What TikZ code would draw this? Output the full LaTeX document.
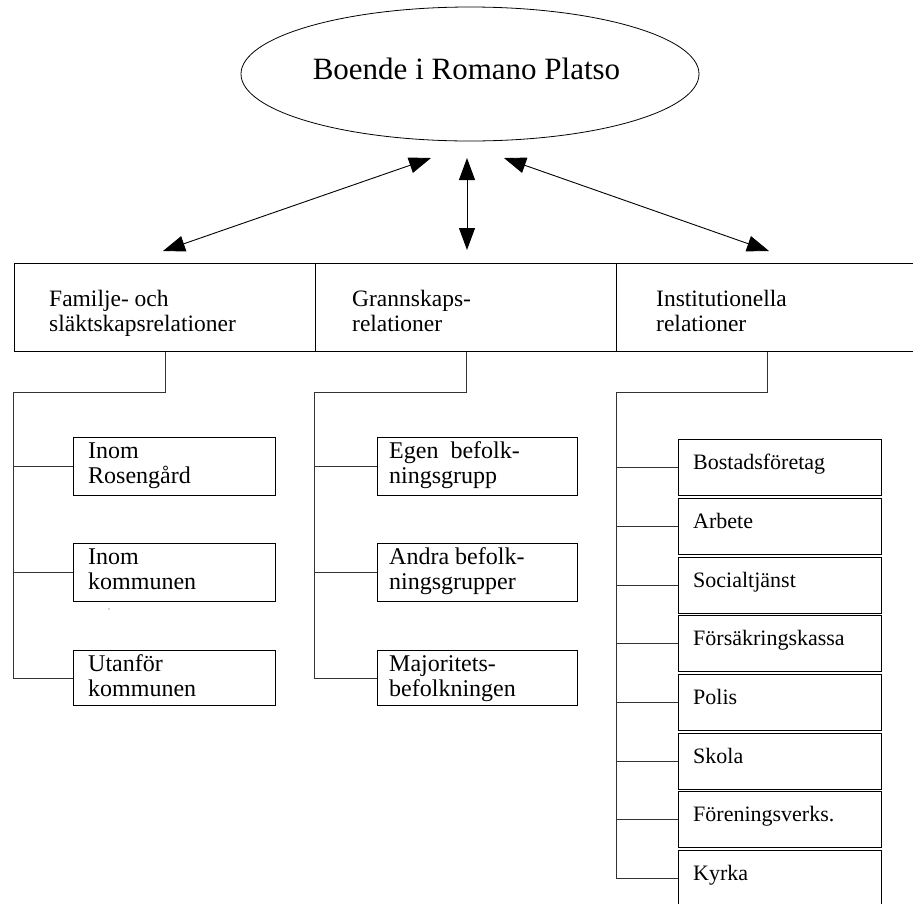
\documentclass[tikz,border=0pt]{standalone}
\usepackage{fontspec}
\setmainfont{Liberation Serif}
\usetikzlibrary{shapes.geometric,arrows.meta}
\begin{document}
\begin{tikzpicture}[x=1pt,y=-1pt,
  conn/.style={line width=0.9pt, draw=black!80},
  hbox/.style={draw, line width=1pt, minimum width=301pt, minimum height=88pt, inner sep=0pt, anchor=north west},
  sbox/.style={draw, line width=1pt, minimum height=58pt, inner sep=0pt, anchor=north west},
  ibox/.style={draw, line width=1pt, minimum width=203pt, minimum height=56pt, inner sep=0pt, anchor=north west},
  htxt/.style={anchor=base west, inner sep=0pt, font=\fontsize{23.5}{25}\selectfont},
  stxt/.style={anchor=base west, inner sep=0pt, font=\fontsize{24}{25}\selectfont},
  itxt/.style={anchor=base west, inner sep=0pt, font=\fontsize{22}{25}\selectfont},
  arr/.style={line width=0.9pt, {Triangle[length=22pt,width=16pt]}-{Triangle[length=22pt,width=16pt]}}
]
\useasboundingbox (0,0) rectangle (913,903);
\clip (0,0) rectangle (913,903);

% top ellipse
\node[draw, ellipse, line width=0.8pt, minimum width=458pt, minimum height=134pt, inner sep=0pt] (top) at (470,74) {};
\node[anchor=base, inner sep=0pt, font=\fontsize{31}{36}\selectfont] (toptxt) at (466.5,79) {Boende i Romano Platso};

% header boxes
\node[hbox] (fam) at (14,263) {};
\node[hbox] (gran) at (315,263) {};
\node[hbox] (inst) at (616,263) {};
\node[htxt] (famA) at (49,306) {Familje- och};
\node[htxt] (famB) at (49,331) {släktskapsrelationer};
\node[htxt] (granA) at (352,306) {Grannskaps-};
\node[htxt] (granB) at (352,331) {relationer};
\node[htxt] (instA) at (656,306) {Institutionella};
\node[htxt] (instB) at (656,331) {relationer};

% arrows
\coordinate (aL1) at (431,158);
\coordinate (aL2) at (163,251);
\coordinate (aC1) at (467,158);
\coordinate (aC2) at (467,250);
\coordinate (aR1) at (504,158);
\coordinate (aR2) at (769,251);
\draw[arr] (aL1) -- (aL2);
\draw[arr] (aC1) -- (aC2);
\draw[arr] (aR1) -- (aR2);

% column 1
\node[sbox, minimum width=202pt] (b11) at (73,437) {};
\node[sbox, minimum width=202pt] (b12) at (73,543) {};
\node[sbox, minimum width=202pt, minimum height=55pt] (b13) at (73,650) {};
\node[stxt] (t11a) at (88,458) {Inom};
\node[stxt] (t11b) at (88,483) {Rosengård};
\node[stxt] (t12a) at (88,564) {Inom};
\node[stxt] (t12b) at (88,589) {kommunen};
\node[stxt] (t13a) at (88,671) {Utanför};
\node[stxt] (t13b) at (88,696) {kommunen};
\coordinate (r1) at (13,392);
\draw[conn] (fam.south) |- (r1) -- (r1 |- b13.west) -- (b13.west);
\draw[conn] (r1 |- b11.west) -- (b11.west);
\draw[conn] (r1 |- b12.west) -- (b12.west);
\fill[black!70] (109,609) circle (0.7pt);

% column 2
\node[sbox, minimum width=200pt] (b21) at (377,437) {};
\node[sbox, minimum width=200pt] (b22) at (377,543) {};
\node[sbox, minimum width=200pt, minimum height=55pt] (b23) at (377,650) {};
\node[stxt] (t21a) at (389,458) {Egen\ \ befolk-};
\node[stxt] (t21b) at (389,483) {ningsgrupp};
\node[stxt] (t22a) at (389,564) {Andra befolk-};
\node[stxt] (t22b) at (389,589) {ningsgrupper};
\node[stxt] (t23a) at (389,671) {Majoritets-};
\node[stxt] (t23b) at (389,696) {befolkningen};
\coordinate (r2) at (314,392);
\draw[conn] (gran.south) |- (r2) -- (r2 |- b23.west) -- (b23.west);
\draw[conn] (r2 |- b21.west) -- (b21.west);
\draw[conn] (r2 |- b22.west) -- (b22.west);

% column 3
\node[ibox] (c1) at (678,439) {};
\node[ibox] (c2) at (678,498) {};
\node[ibox] (c3) at (678,557) {};
\node[ibox] (c4) at (678,615) {};
\node[ibox] (c5) at (678,674) {};
\node[ibox] (c6) at (678,733) {};
\node[ibox] (c7) at (678,791) {};
\node[ibox] (c8) at (678,850) {};
\node[itxt] (u1) at (693,469) {Bostadsföretag};
\node[itxt] (u2) at (693,528) {Arbete};
\node[itxt] (u3) at (693,587) {Socialtjänst};
\node[itxt] (u4) at (693,645) {Försäkringskassa};
\node[itxt] (u5) at (693,704) {Polis};
\node[itxt] (u6) at (693,763) {Skola};
\node[itxt] (u7) at (693,821) {Föreningsverks.};
\node[itxt] (u8) at (693,880) {Kyrka};
\coordinate (r3) at (616,392);
\draw[conn] (inst.south) |- (r3) -- (r3 |- c8.west) -- (c8.west);
\foreach \c in {c1,c2,c3,c4,c5,c6,c7}{
  \draw[conn] (r3 |- \c.west) -- (\c.west);
}
\end{tikzpicture}
\end{document}
